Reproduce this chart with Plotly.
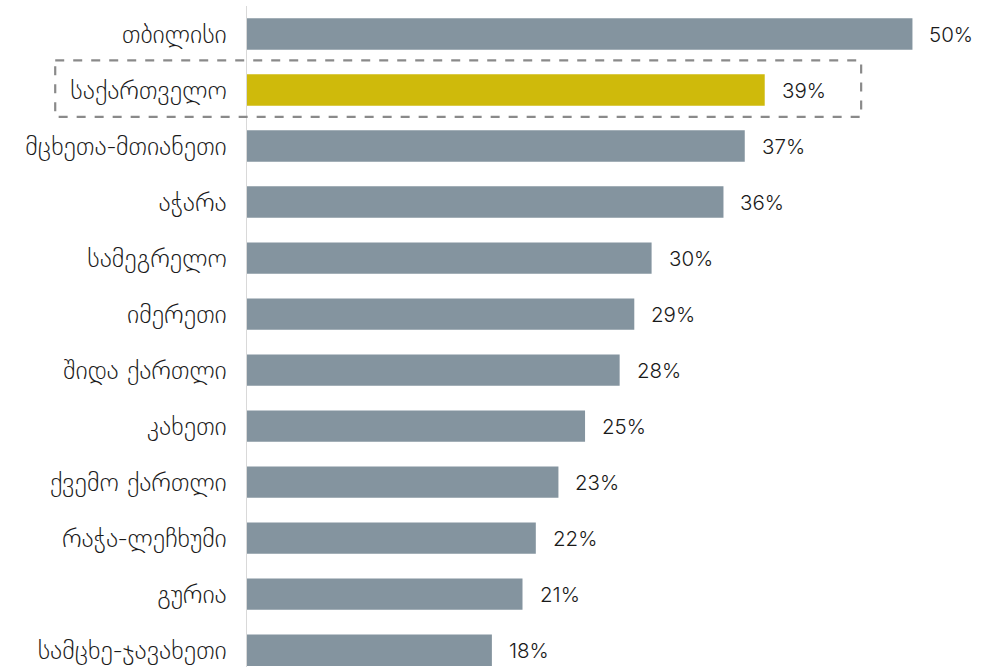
import plotly.graph_objects as go

regions = ["თბილისი", "საქართველო", "მცხეთა-მთიანეთი", "აჭარა", "სამეგრელო",
           "იმერეთი", "შიდა ქართლი", "კახეთი", "ქვემო ქართლი", "რაჭა-ლეჩხუმი",
           "გურია", "სამცხე-ჯავახეთი"]
values = [50.0, 38.9, 37.4, 35.8, 30.4, 29.1, 28.0, 25.4, 23.4, 21.7, 20.7, 18.4]
labels = ["50%", "39%", "37%", "36%", "30%", "29%", "28%", "25%", "23%", "22%", "21%", "18%"]
highlight = "საქართველო"

GRAY = "#84949f"
GOLD = "#cfba0b"
colors = [GOLD if r == highlight else GRAY for r in regions]

FONT = "DejaVu Sans, sans-serif"
NUMFONT = "Inter, DejaVu Sans, sans-serif"

fig = go.Figure(go.Bar(
    x=values, y=regions, orientation="h",
    marker=dict(color=colors, line=dict(width=0)),
    hoverinfo="skip",
))

for r, v, t in zip(regions, values, labels):
    fig.add_annotation(x=v, y=r, text=t, showarrow=False, xanchor="left",
                       xshift=15, font=dict(size=20.5, color="#1a1a1a", family=NUMFONT, weight=300))

hi = regions.index(highlight)
fig.add_shape(type="rect", xref="paper", yref="y",
              x0=-0.262, x1=0.839, y0=hi - 0.53, y1=hi + 0.48,
              line=dict(color="#8a8a8a", width=2.2, dash="dash"),
              fillcolor="rgba(0,0,0,0)", layer="above")

fig.update_layout(
    width=993, height=667,
    margin=dict(l=247, r=14, t=6, b=0),
    plot_bgcolor="white", paper_bgcolor="white",
    bargap=0.44,
    showlegend=False,
    font=dict(family=FONT, size=18, color="#222222"),
    xaxis=dict(range=[0, 55], visible=False, showgrid=False, zeroline=False, fixedrange=True),
    yaxis=dict(range=[11.3, -0.5], showline=True, linecolor="#d9d9d9", linewidth=1,
               ticks="", ticklabelstandoff=14, showgrid=False, zeroline=False,
               tickfont=dict(size=26, color="#1a1a1a", family=FONT, weight=200)),
)

fig.write_html("out.html")
